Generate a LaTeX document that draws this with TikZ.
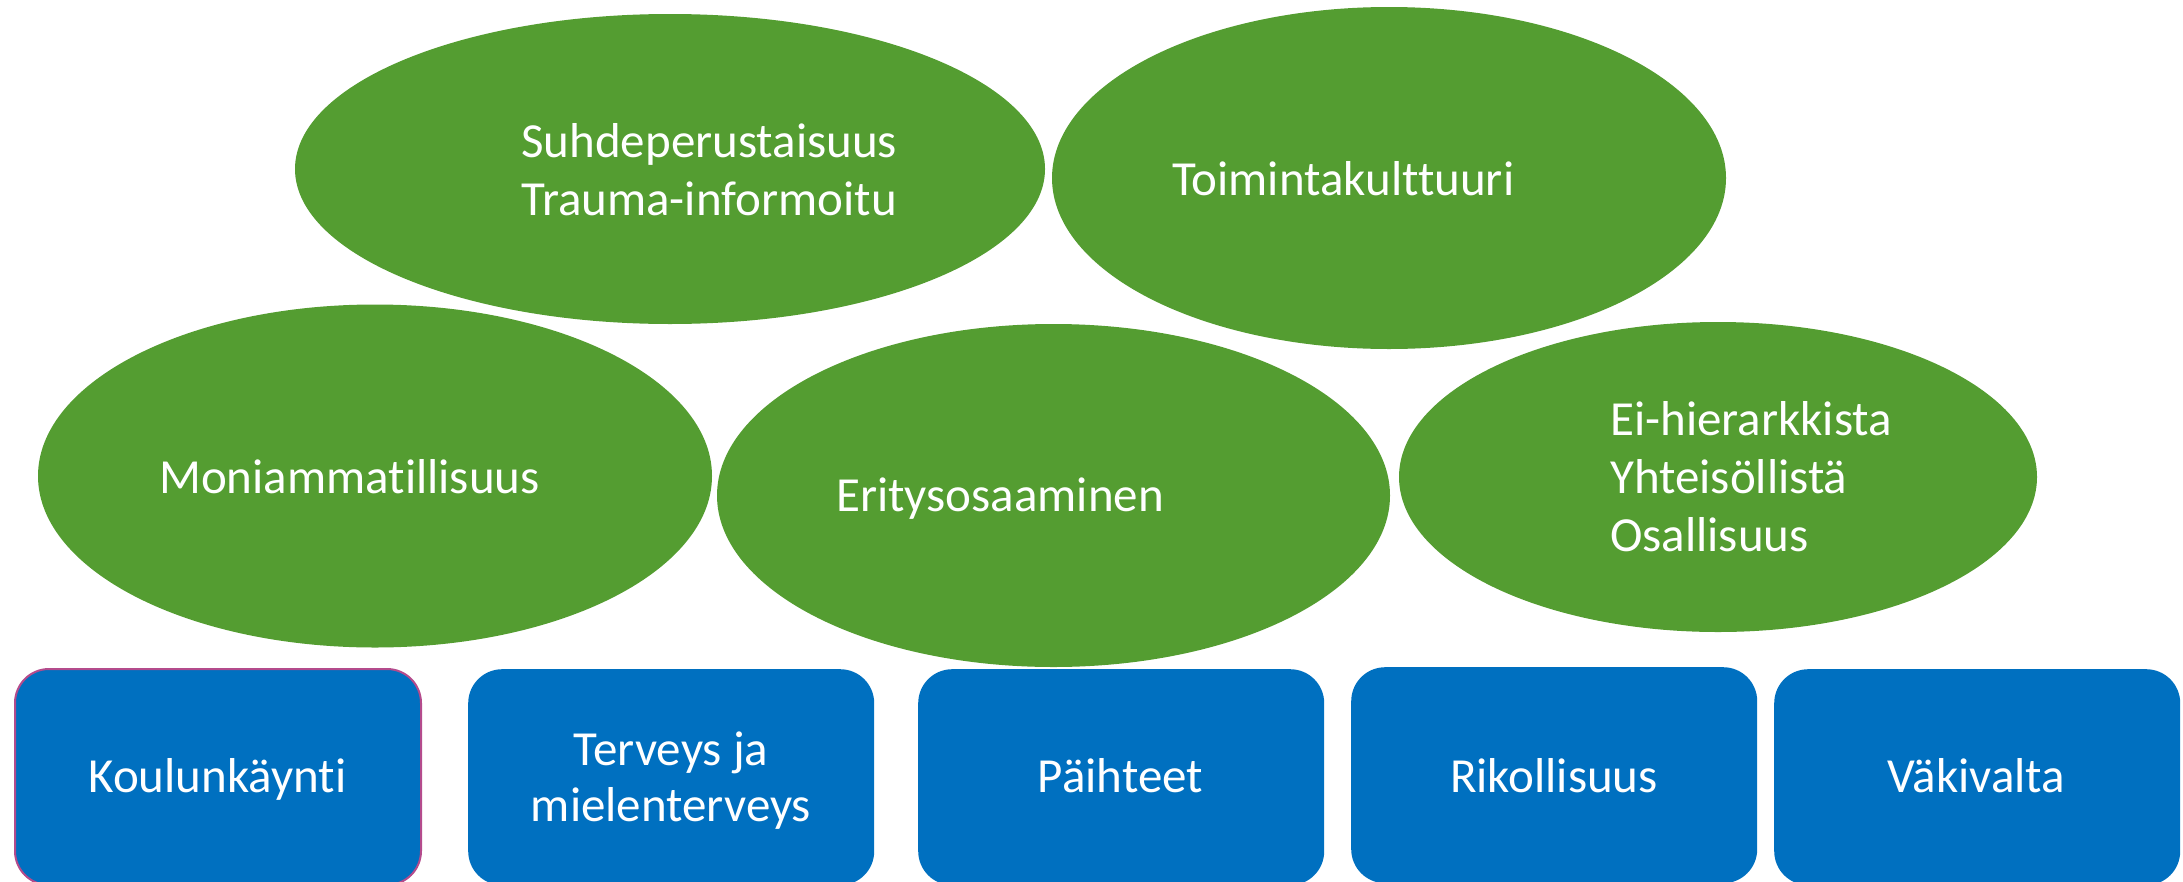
\documentclass[tikz,border=0pt]{standalone}
\usepackage{fontspec}
\setmainfont[RawFeature={-liga}]{Carlito}
\usetikzlibrary{shapes.geometric}
\definecolor{leafgreen}{HTML}{549D31}
\definecolor{boxblue}{HTML}{0070C0}
\definecolor{rimpink}{HTML}{B44B8C}
\tikzset{
  oval/.style={ellipse, fill=leafgreen, draw=none, inner sep=0pt},
  tile/.style={rectangle, fill=boxblue, draw=none, rounded corners=34pt, inner sep=0pt,
               minimum width=406pt, minimum height=216pt, anchor=north west},
  ovaltext/.style={text=white, anchor=base west, align=left, inner sep=0pt,
                   font=\fontsize{49}{58}\selectfont},
  tiletext/.style={text=white, align=center, inner sep=0pt, anchor=base,
                   font=\fontsize{49}{56}\selectfont}
}
\begin{document}
\begin{tikzpicture}[x=1pt, y=-1pt]
\useasboundingbox (0,0) rectangle (2183,881);
% ellipses
\node[oval, minimum width=750pt, minimum height=310pt] (e1) at (670,169) {};
\node[oval, minimum width=674pt, minimum height=342pt] (e2) at (1389,178) {};
\node[oval, minimum width=674pt, minimum height=343pt] (e3) at (375,476) {};
\node[oval, minimum width=673pt, minimum height=343pt] (e4) at (1053.5,495.5) {};
\node[oval, minimum width=638pt, minimum height=310pt] (e5) at (1718,477) {};
% ellipse texts (base = baseline of the last line)
\node[ovaltext] (t1) at (521,215) {Suhdeperustaisuus\\Trauma-informoitu};
\node[ovaltext] (t2) at (1172,195.5) {Toimintakulttuuri};
\node[ovaltext] (t3) at (159,493) {Moniammatillisuus};
\node[ovaltext] (t4) at (836,511) {Eritysosaaminen};
\node[ovaltext] (t5) at (1610,551) {Ei-hierarkkista\\Yhteisöllistä\\Osallisuus};
% boxes
\node[tile, draw=rimpink, line width=2pt] (b1) at (14,668) {};
\node[tile] (b2) at (468,669) {};
\node[tile] (b3) at (918,669) {};
\node[tile] (b4) at (1351,667) {};
\node[tile] (b5) at (1774,669) {};
% box texts
\node[tiletext] (k1) at (217.5,792) {Koulunkäynti};
\node[tiletext] (k2) at (671,821) {Terveys ja\\mielenterveys};
\node[tiletext] (k3) at (1120.5,792) {Päihteet};
\node[tiletext] (k4) at (1554,792) {Rikollisuus};
\node[tiletext] (k5) at (1976.5,792) {Väkivalta};
\end{tikzpicture}
\end{document}
